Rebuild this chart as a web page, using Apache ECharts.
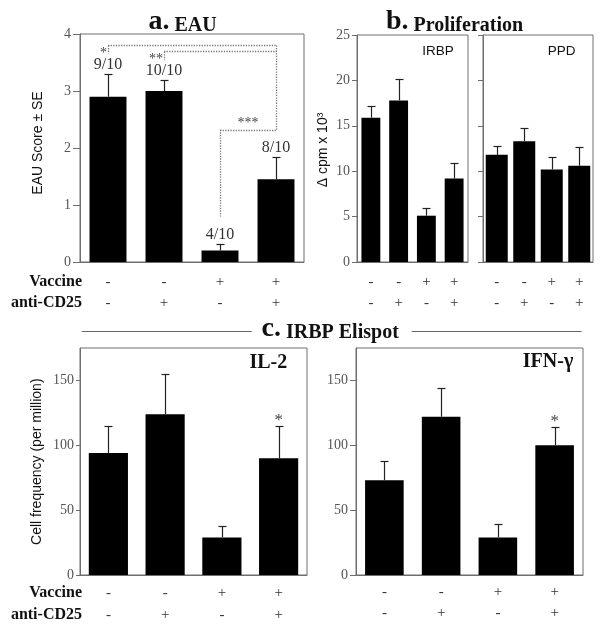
<!DOCTYPE html>
<html><head><meta charset="utf-8">
<script src="https://cdn.jsdelivr.net/npm/echarts@6/dist/echarts.min.js"></script>
<style>html,body{margin:0;padding:0;background:#fff}#c{width:605px;height:632px}</style>
</head><body><div id="c"></div>
<script>
// ---- data ----
const vaccine = ['-', '-', '+', '+'];
const antiCD25 = ['-', '+', '-', '+'];
const categories = vaccine.map((v, i) => v + '\n' + antiCD25[i]);

const eauMean = [2.9, 3.0, 0.2, 1.45];
const eauSE = [0.4, 0.2, 0.12, 0.4];
const eauIncidence = ['9/10', '10/10', '4/10', '8/10'];
const eauRange = [0, 4, 1];

const irbpMean = [15.9, 17.8, 5.1, 9.2];
const irbpSE = [1.3, 2.3, 0.9, 1.7];
const ppdMean = [11.8, 13.3, 10.2, 10.6];
const ppdSE = [1.0, 1.5, 1.4, 2.1];
const prolifRange = [0, 25, 5];

const il2Mean = [94, 124, 29, 90];
const il2SE = [21, 31, 9, 25];
const ifnMean = [73, 122, 29, 100];
const ifnSE = [15, 22, 10, 14];
const elispotRange = [0, 175, 50];
const elispotStarCat = [3];

// significance brackets in panel a: [category, value] pairs
const sigBrackets = [
  [[0, 3.80], [3, 3.80]],
  [[1, 3.69], [3, 3.69]],
  [[0, 3.80], [0, 3.66]],
  [[1, 3.69], [1, 3.54]],
  [[3, 3.80], [3, 2.32]],
  [[2, 2.32], [3, 2.32]],
  [[2, 2.32], [2, 0.80]]
];
const sigStars = ['*', '**', '***'];
const sigStarAt = [[0, 0, 3.66], [1, 1, 3.55], [2, 3, 2.43]];

// ---- styles ----
const SERIF = '"Liberation Serif", "DejaVu Serif", serif';
const SANS = '"Liberation Sans", Arial, sans-serif';
const AX = '#6e6e6e';
const TICKTXT = '#555';
const ERR = '#222';

const chart = echarts.init(document.getElementById('c'), null, {renderer: 'canvas'});

const grids = [
  {left: 80, top: 34, width: 224, height: 228},
  {left: 357, top: 35, width: 111, height: 227},
  {left: 483, top: 35, width: 110, height: 227},
  {left: 80, top: 348, width: 227, height: 227},
  {left: 356, top: 348, width: 227, height: 227}
].map(g => Object.assign(g, {show: true, borderColor: AX, borderWidth: 1, backgroundColor: 'transparent'}));

function xAx(gi, margin) {
  return {
    type: 'category', gridIndex: gi, data: categories,
    axisLine: {lineStyle: {color: AX, width: 1}},
    axisTick: {alignWithLabel: true, length: 6, lineStyle: {color: AX}},
    axisLabel: {interval: 0, margin: margin, fontFamily: SERIF, fontSize: 15, color: '#333', lineHeight: 21.6}
  };
}
function yAx(gi, range, showLabels, tickLen) {
  return {
    type: 'value', gridIndex: gi, min: range[0], max: range[1], interval: range[2],
    axisLine: {show: true, lineStyle: {color: AX, width: 1}},
    axisTick: {show: true, length: tickLen, lineStyle: {color: AX}},
    axisLabel: {show: showLabels, margin: tickLen + 2, fontFamily: SERIF, fontSize: 14, color: TICKTXT, showMaxLabel: range[1] % range[2] === 0},
    splitLine: {show: false}
  };
}

function bars(gi, data, width) {
  return {type: 'bar', xAxisIndex: gi, yAxisIndex: gi, data: data, barWidth: width,
    itemStyle: {color: '#000'}, silent: true, z: 2};
}
function errBars(gi, mean, se, cap) {
  return {
    type: 'custom', xAxisIndex: gi, yAxisIndex: gi, z: 4, silent: true,
    data: mean.map((m, i) => [i, m, m + se[i]]),
    encode: {x: 0, y: [1, 2]},
    renderItem: (p, api) => {
      const a = api.coord([api.value(0), api.value(1)]);
      const b = api.coord([api.value(0), api.value(2)]);
      const x = Math.round(a[0]) + 0.5;
      const yb = Math.round(b[1]) + 0.5;
      return {type: 'group', children: [
        {type: 'line', shape: {x1: x, y1: a[1], x2: x, y2: yb}, style: {stroke: ERR, lineWidth: 1.2}},
        {type: 'line', shape: {x1: x - cap / 2, y1: yb, x2: x + cap / 2, y2: yb}, style: {stroke: ERR, lineWidth: 1.2}}
      ]};
    }
  };
}

const series = [];
// panel a
const aBars = bars(0, eauMean, '66%');
aBars.markLine = {
  silent: true, symbol: ['none', 'none'], animation: false,
  label: {show: false},
  lineStyle: {type: 'dotted', color: '#7a7a7a', width: 1.3},
  emphasis: {disabled: true},
  data: sigBrackets.map(s => [{coord: s[0]}, {coord: s[1]}])
};
series.push(aBars, errBars(0, eauMean, eauSE, 8));
series.push({
  type: 'custom', xAxisIndex: 0, yAxisIndex: 0, z: 6, silent: true,
  data: eauMean.map((m, i) => [i, m + eauSE[i]]),
  encode: {x: 0, y: 1},
  renderItem: (p, api) => {
    const c = api.coord([api.value(0), api.value(1)]);
    return {type: 'text', x: c[0], y: c[1] - 1,
      style: {text: eauIncidence[p.dataIndex], font: '16px ' + SERIF, fill: '#333', align: 'center', verticalAlign: 'bottom'}};
  }
});
series.push({
  type: 'custom', xAxisIndex: 0, yAxisIndex: 0, z: 6, silent: true,
  data: sigStarAt.map(s => [s[0], s[2], s[1]]),
  encode: {x: 0, y: 1},
  renderItem: (p, api) => {
    const c1 = api.coord([api.value(0), api.value(1)]);
    const c2 = api.coord([api.value(2), api.value(1)]);
    const same = api.value(0) === api.value(2);
    return {type: 'text', x: same ? c1[0] - 1 : (c1[0] + c2[0]) / 2, y: c1[1],
      style: {text: sigStars[p.dataIndex], font: '14px ' + SERIF, fill: '#444', align: same ? 'right' : 'center', verticalAlign: 'middle'}};
  }
});
// panel b
series.push(bars(1, irbpMean, '68%'), errBars(1, irbpMean, irbpSE, 8));
series.push(bars(2, ppdMean, '80%'), errBars(2, ppdMean, ppdSE, 8));
// panel c
series.push(bars(3, il2Mean, '69%'), errBars(3, il2Mean, il2SE, 8));
series.push(bars(4, ifnMean, '68%'), errBars(4, ifnMean, ifnSE, 8));
function starSeries(gi, mean, se) {
  return {
    type: 'custom', xAxisIndex: gi, yAxisIndex: gi, z: 6, silent: true,
    data: elispotStarCat.map(i => [i, mean[i] + se[i]]),
    encode: {x: 0, y: 1},
    renderItem: (p, api) => {
      const c = api.coord([api.value(0), api.value(1)]);
      return {type: 'text', x: c[0], y: c[1] - 5.5,
        style: {text: '*', font: '17px ' + SERIF, fill: '#444', align: 'center', verticalAlign: 'middle'}};
    }
  };
}
series.push(starSeries(3, il2Mean, il2SE), starSeries(4, ifnMean, ifnSE));

function txt(text, x, y, font, opts) {
  return Object.assign({type: 'text', x: x, y: y, silent: true,
    style: Object.assign({text: text, font: font, fill: '#111', align: 'center', verticalAlign: 'middle'}, opts || {})});
}
function rtxt(text, x, y, font) {
  return {type: 'text', x: x, y: y, rotation: Math.PI / 2, silent: true,
    style: {text: text, font: font, fill: '#111', align: 'center', verticalAlign: 'middle'}};
}
function title(letter, word, xs, y) {
  return [
    txt(letter, xs, y, 'bold 28px ' + SERIF, {align: 'right', verticalAlign: 'bottom'}),
    txt(word, xs + 5, y, 'bold 20px ' + SERIF, {align: 'left', verticalAlign: 'bottom'})
  ];
}

const graphic = [].concat(
  title('a.', 'EAU', 169.5, 36),
  title('b.', 'Proliferation', 408.5, 35.5),
  title('c.', 'IRBP Elispot', 281, 342.5),
  [
  {type: 'line', silent: true, shape: {x1: 81.7, y1: 331.5, x2: 251.7, y2: 331.5}, style: {stroke: '#666', lineWidth: 1.2}},
  {type: 'line', silent: true, shape: {x1: 411.7, y1: 331.5, x2: 581.7, y2: 331.5}, style: {stroke: '#666', lineWidth: 1.2}},
  rtxt('EAU Score ± SE', 37.7, 143, '14px ' + SANS),
  rtxt('Δ cpm x 10³', 323.3, 150, '14px ' + SANS),
  rtxt('Cell frequency (per million)', 36.7, 461.7, '14px ' + SANS),
  txt('IRBP', 438, 51.5, '13.5px ' + SANS),
  txt('PPD', 561.7, 51.5, '13.5px ' + SANS),
  txt('IL-2', 268.3, 363.3, 'bold 20px ' + SERIF),
  txt('IFN-γ', 573.3, 362, 'bold 20px ' + SERIF, {align: 'right'}),
  txt('Vaccine', 82, 281.7, 'bold 16px ' + SERIF, {align: 'right'}),
  txt('anti-CD25', 82, 303.3, 'bold 16px ' + SERIF, {align: 'right'}),
  txt('Vaccine', 82, 593.3, 'bold 16px ' + SERIF, {align: 'right'}),
  txt('anti-CD25', 82, 615, 'bold 16px ' + SERIF, {align: 'right'})
  ]
);

chart.setOption({
  animation: false,
  backgroundColor: '#fff',
  grid: grids,
  xAxis: [xAx(0, 9), xAx(1, 9), xAx(2, 9), xAx(3, 7.5), xAx(4, 6)],
  yAxis: [yAx(0, eauRange, true, 7), yAx(1, prolifRange, true, 5), yAx(2, prolifRange, false, 5), yAx(3, elispotRange, true, 4), yAx(4, elispotRange, true, 6)],
  series: series,
  graphic: graphic
});
</script>
</body></html>
